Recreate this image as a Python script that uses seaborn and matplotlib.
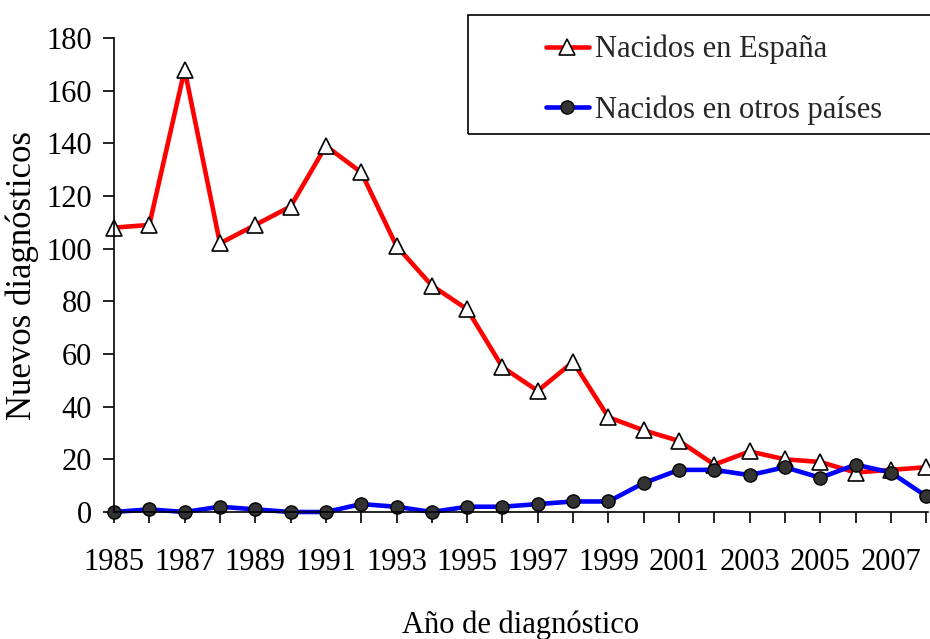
import matplotlib
matplotlib.use('Agg')
import matplotlib.pyplot as plt
from matplotlib.patches import Rectangle
import seaborn as sns
import pandas as pd

# ── Data ────────────────────────────────────────────────────
years = list(range(1985, 2009))
spain = [108, 109, 168, 102, 109, 116, 139, 129, 101, 86, 77, 55,
         46, 57, 36, 31, 27, 18, 23, 20, 19, 15, 16, 17]
abroad = [0, 1, 0, 2, 1, 0, 0, 3, 2, 0, 2, 2,
          3, 4, 4, 11, 16, 16, 14, 17, 13, 18, 15, 6]
label_spain = 'Nacidos en España'
label_abroad = 'Nacidos en otros países'

df = pd.DataFrame({'Year': years, 'Spain': spain, 'Abroad': abroad})

# ── Style ───────────────────────────────────────────────────
sns.set_theme(style='ticks')
plt.rcParams['font.family'] = ['Liberation Serif', 'DejaVu Serif']
FS = 22

fig = plt.figure(figsize=(9.3, 6.39), dpi=100, facecolor='white')
ax = fig.add_axes([114 / 930, 127 / 639, (928 - 114) / 930, (512 - 38) / 639])

sns.lineplot(data=df, x='Year', y='Spain', ax=ax, color='#ff0000',
             linewidth=3.3, marker='^', markersize=11,
             markerfacecolor='white', markeredgecolor='black',
             markeredgewidth=1.2, label=label_spain)
sns.lineplot(data=df, x='Year', y='Abroad', ax=ax, color='#0000ff',
             linewidth=3.3, marker='o', markersize=9.5,
             markerfacecolor='#333333', markeredgecolor='black',
             markeredgewidth=1.0, label=label_abroad)

ax.set_xlim(1985, 2008.05)
ax.set_ylim(0, 180)
ax.set_yticks(range(0, 181, 20))
ax.set_xticks(years)
ax.set_xticklabels([str(y) if y % 2 == 1 else '' for y in years])
for line in ax.lines:
    line.set_clip_on(False)

sns.despine(ax=ax)
for s in ['left', 'bottom']:
    ax.spines[s].set_color('black')
    ax.spines[s].set_linewidth(1.2)
ax.tick_params(axis='both', colors='black', labelsize=FS, length=8,
               width=1.2, direction='out')
ax.tick_params(axis='x', pad=18)
ax.tick_params(axis='y', pad=8)
ax.set_xlabel('Año de diagnóstico', fontsize=FS, color='black', labelpad=24)
ax.set_ylabel('Nuevos diagnósticos', fontsize=25, color='black', labelpad=5)

# legend with a square frame running off the right edge
fig.patches.append(Rectangle((468 / 930, 1 - 134 / 639), 0.6, 119 / 639,
                             transform=fig.transFigure, fill=False,
                             edgecolor='black', linewidth=1.2))
ax.legend(loc='upper left', bbox_to_anchor=(546 / 930, 1 - 35 / 639),
          bbox_transform=fig.transFigure, frameon=False, fontsize=FS,
          handlelength=1.4, handletextpad=0.2, labelspacing=1.0,
          borderpad=0, borderaxespad=0)

plt.savefig('out.png', dpi=100, facecolor='white')
